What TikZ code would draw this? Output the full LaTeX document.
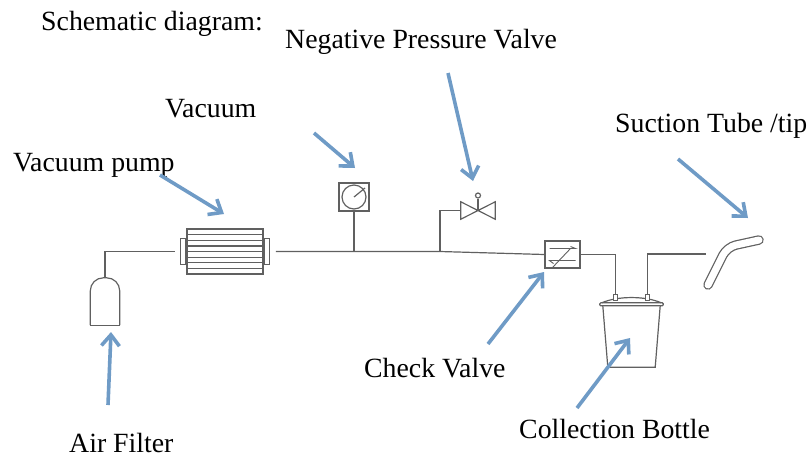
\documentclass[tikz,border=0pt]{standalone}
\usepackage{fontspec}
\setmainfont{Liberation Serif}
\usetikzlibrary{calc, arrows.meta}
\definecolor{pointer}{HTML}{6F9BC6}
\definecolor{pipe}{HTML}{606060}
\tikzset{
        my-label/.style={inner sep=0pt, font=\fontsize{27.8}{30}\selectfont},
        my-line/.style={draw=pipe, line width=1.2pt},
        my-box/.style={rectangle, my-line, inner sep=0pt},
        my-pipe/.style={draw=pipe, line width=1.2pt},
        my-pointer/.style={draw=pointer, line width=3.6pt, -{Straight Barb[length=11pt, width=18pt, line width=3.6pt]}},
}

\begin{document}
\begin{tikzpicture}[x=1pt, y=-1pt]
        \useasboundingbox (0,0) rectangle (810,456);

        %DRAW LABELS
        \node [my-label, anchor=west] (TITLE)    at (41,24)   {Schematic diagram:};
        \node [my-label, anchor=west] (NPVTEXT)  at (285,42)  {Negative Pressure Valve};
        \node [my-label, anchor=west] (VACTEXT)  at (165,109) {Vacuum};
        \node [my-label, anchor=west] (PUMPTEXT) at (13,165)  {Vacuum pump};
        \node [my-label, anchor=west] (TIPTEXT)  at (615,126) {Suction Tube /tip};
        \node [my-label, anchor=west] (CHKTEXT)  at (364,368) {Check Valve};
        \node [my-label, anchor=west] (AIRTEXT)  at (69,443)  {Air Filter};
        \node [my-label, anchor=west] (BOTTEXT)  at (519,429) {Collection Bottle};

        %DRAW PARTS (relative to the pump)
        \node [my-box, minimum width=76pt, minimum height=45pt] (PUMP) at (225,251.5) {};
        \node [my-box, minimum width=5pt, minimum height=26pt, anchor=east] (PUMPL) at (PUMP.west) {};
        \node [my-box, minimum width=5pt, minimum height=26pt, anchor=west] (PUMPR) at (PUMP.east) {};
        \node [minimum width=29pt, minimum height=47pt, inner sep=0pt] (FILTER) at ($(PUMP)+(-120,50)$) {};
        \node [my-box, minimum width=30pt, minimum height=28pt] (GAUGE) at ($(PUMP)+(129,-54.5)$) {};
        \node [circle, my-line, minimum size=24pt, inner sep=0pt] (DIAL) at (GAUGE) {};
        \node [minimum width=34pt, minimum height=17pt, inner sep=0pt] (VALVE) at ($(PUMP)+(253,-41)$) {};
        \node [circle, my-line, minimum size=5pt, inner sep=0pt] (KNOB) at ($(VALVE)+(0,-15)$) {};
        \node [my-box, minimum width=35pt, minimum height=27pt] (CHECK) at ($(PUMP)+(337.5,3)$) {};
        \node [minimum width=47pt, minimum height=61pt, inner sep=0pt] (BOTTLE) at ($(PUMP)+(406.5,85)$) {};

        % PUMP FINS
        \foreach \k in {-3,...,3}
            \draw [my-line] ($(PUMP.west)+(0,\k*5.6)$) -- ($(PUMP.east)+(0,\k*5.6)$);

        % AIR FILTER BODY
        \draw [my-line, rounded corners=13pt] (FILTER.south west) -- (FILTER.north west) -- (FILTER.north east) -- (FILTER.south east);
        \draw [my-line] (FILTER.south west) -- (FILTER.south east);

        % GAUGE NEEDLE
        \draw [my-line] (DIAL.center) -- ($(DIAL.center)+(11,-9)$);

        % VALVE BODY
        \draw [my-line] (VALVE.center) -- (VALVE.north west) -- (VALVE.south west) -- (VALVE.north east) -- (VALVE.south east) -- cycle;
        \draw [my-line] (VALVE.center) -- (KNOB);

        % CHECK VALVE SYMBOL
        \draw [my-line, line width=.9pt] ($(CHECK)+(-13,-6)$) -- ($(CHECK)+(13,-6)$) -- ++(-5,-2);
        \draw [my-line, line width=.9pt] ($(CHECK)+(13,6)$) -- ($(CHECK)+(-13,6)$) -- ++(4,3);
        \draw [my-line, line width=.9pt] ($(CHECK)+(-10,13)$) -- ($(CHECK)+(8,-6)$);

        % COLLECTION BOTTLE
        \draw [my-line] (BOTTLE.south west) -- ($(BOTTLE.north west)+(-5,0)$);
        \draw [my-line] (BOTTLE.south west) -- (BOTTLE.south east) -- ($(BOTTLE.north east)+(5,0)$);
        \draw [my-line, fill=white, rounded corners=1pt] ($(BOTTLE.north west)+(-8,-3)$) rectangle ($(BOTTLE.north east)+(8,0)$);
        \draw [my-line] ($(BOTTLE.north west)+(-6,-3)$) .. controls ($(BOTTLE.north)+(-14,-10)$) and ($(BOTTLE.north)+(14,-10)$) .. ($(BOTTLE.north east)+(6,-3)$);
        \node [my-box, fill=white, minimum width=3.5pt, minimum height=6pt] (PORTA) at ($(BOTTLE.north)+(-16,-8)$) {};
        \node [my-box, fill=white, minimum width=3.5pt, minimum height=6pt] (PORTB) at ($(BOTTLE.north)+(16,-8)$) {};

        % SUCTION TIP
        \coordinate (TIPIN) at (706,254);
        \draw [pipe, line width=9.5pt, line cap=round, rounded corners=9pt] (708,285) -- (727,247) -- (759,240);
        \draw [white, line width=7pt, line cap=round, rounded corners=9pt] (708,285) -- (727,247) -- (759,240);

        % CONNECT PIPES
        \coordinate (BEND) at ($(PUMP)+(215,0)$);
        \coordinate (PUMPOUT) at ($(PUMPR.east)+(6,0)$);
        \coordinate (PUMPIN) at ($(PUMPL.west)+(-5,0)$);
        \draw [my-pipe] (FILTER.north) |- (PUMPIN);
        \draw [my-pipe] (PUMPOUT) -- (BEND) -- (CHECK.west);
        \draw [my-pipe] (GAUGE.south) -- (GAUGE.south |- PUMP);
        \draw [my-pipe] (BEND) |- (VALVE.west);
        \draw [my-pipe] (CHECK.east) -| (PORTA.north);
        \draw [my-pipe] (PORTB.north) |- (TIPIN);

        % POINTER ENDS
        \coordinate (NPVTAIL)  at (448,73);   \coordinate (NPVHEAD)  at (473,181);
        \coordinate (VACTAIL)  at (314,133);  \coordinate (VACHEAD)  at (355,168);
        \coordinate (PUMPTAIL) at (160,175);  \coordinate (PUMPHEAD) at (224,214);
        \coordinate (TIPTAIL)  at (678,159);  \coordinate (TIPHEAD)  at (748,218);
        \coordinate (CHKTAIL)  at (488,344);  \coordinate (CHKHEAD)  at (544,272);
        \coordinate (AIRTAIL)  at (108,405);  \coordinate (AIRHEAD)  at (111,332);
        \coordinate (BOTTAIL)  at (577,408);  \coordinate (BOTHEAD)  at (630,338);

        % DRAW POINTERS
        \foreach \p in {NPV, VAC, PUMP, TIP, CHK, AIR, BOT}
            \draw [my-pointer] (\p TAIL) -- (\p HEAD);

\end{tikzpicture}
\end{document}
